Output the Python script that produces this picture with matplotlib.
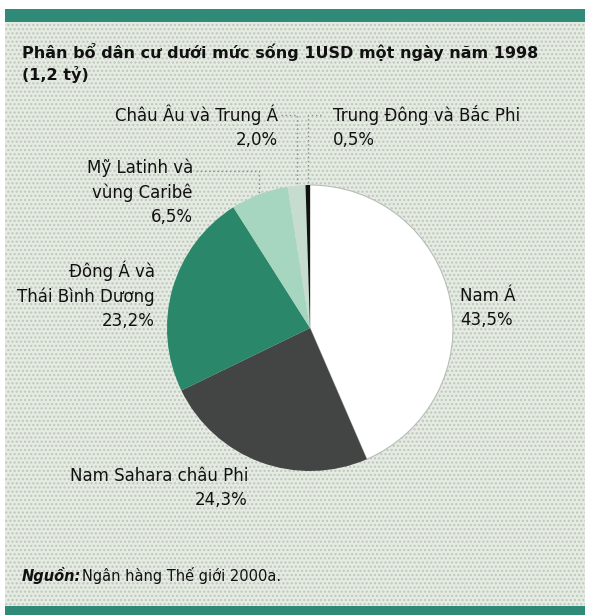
import numpy as np
import matplotlib
matplotlib.use("Agg")
import matplotlib.pyplot as plt
from matplotlib.patches import Rectangle

plt.rcParams['font.family'] = ['DejaVu Sans']

# population living under $1/day, 1998 (share by region, %)
regions = ['Nam Á', 'Nam Sahara châu Phi', 'Đông Á và\nThái Bình Dương',
           'Mỹ Latinh và\nvùng Caribê', 'Châu Âu và Trung Á', 'Trung Đông và Bắc Phi']
shares = [43.5, 24.3, 23.2, 6.5, 2.0, 0.5]
colors = ['#ffffff', '#434545', '#2b8769', '#a6d5c0', '#c6dccf', '#111111']

title = 'Phân bổ dân cư dưới mức sống 1USD một ngày năm 1998\n(1,2 tỷ)'
source = 'Ngân hàng Thế giới 2000a.'

W, H = 589, 615
fig = plt.figure(figsize=(W / 100, H / 100), dpi=100)
fig.patch.set_facecolor('white')

# overlay axes in pixel coordinates for frame, text and leader lines
bg = fig.add_axes([0, 0, 1, 1])
bg.set_xlim(0, W)
bg.set_ylim(H, 0)
bg.axis('off')

# dotted panel background
bg.add_patch(Rectangle((5, 22), 580, 586, facecolor='#e4ebe1', edgecolor='none', zorder=0))
bg.add_patch(Rectangle((5, 22), 580, 586, facecolor='none', edgecolor='#bfc4bf',
                       linewidth=0, hatch='....', zorder=0))
bg.add_patch(Rectangle((5, 9), 580, 13, facecolor='#2f8a78', edgecolor='none', zorder=1))
bg.add_patch(Rectangle((5, 606), 580, 9, facecolor='#2f8a78', edgecolor='none', zorder=1))

bg.text(22, 43, title, fontsize=11.5, fontweight='bold', va='top', ha='left',
        linespacing=1.35, color='#111111')
bg.text(22, 576, 'Nguồn:', fontsize=10.5, fontweight='bold', style='italic',
        va='center', ha='left', color='#111111')
bg.text(82, 576, source, fontsize=10.5, va='center', ha='left', color='#111111')

# pie
cx, cy, r = 310, 328, 143
pie_ax = fig.add_axes([(cx - r) / W, (H - cy - r) / H, 2 * r / W, 2 * r / H])
wedges, _ = pie_ax.pie(shares, colors=colors, startangle=90, counterclock=False,
                       wedgeprops=dict(linewidth=0))
wedges[0].set_edgecolor('#b8bdb8')
wedges[0].set_linewidth(0.8)
pie_ax.set_xlim(-1, 1)
pie_ax.set_ylim(-1, 1)
pie_ax.set_aspect('equal')

def pct(v):
    return ('%.1f%%' % v).replace('.', ',')

# mid-angle of each wedge (degrees clockwise from top) and its rim point in pixels
cum = np.cumsum([0] + shares)
mids = (cum[:-1] + cum[1:]) / 2 * 3.6

def rim(i):
    a = np.radians(mids[i])
    return cx + r * np.sin(a), cy - r * np.cos(a)

kw = dict(fontsize=12, color='#111111', linespacing=1.45)
bg.text(460, 308, regions[0] + '\n' + pct(shares[0]), ha='left', va='center', **kw)
bg.text(248, 488, regions[1] + '\n' + pct(shares[1]), ha='right', va='center', **kw)
bg.text(155, 295, regions[2] + '\n' + pct(shares[2]), ha='right', va='center', **kw)
bg.text(193, 192, regions[3] + '\n' + pct(shares[3]), ha='right', va='center', **kw)
bg.text(278, 127, regions[4] + '\n' + pct(shares[4]), ha='right', va='center', **kw)
bg.text(333, 127, regions[5] + '\n' + pct(shares[5]), ha='left', va='center', **kw)

lk = dict(color='#8a8f8a', linewidth=1, linestyle=(0, (1, 2)), zorder=3)
x3, y3 = rim(3)
bg.plot([196, x3, x3], [171, 171, y3], **lk)
x4, y4 = rim(4)
bg.plot([281, x4, x4], [115, 115, y4], **lk)
x5, y5 = rim(5)
bg.plot([321, x5, x5], [115, 115, y5], **lk)

fig.savefig('out.png', dpi=100, facecolor=fig.get_facecolor())
